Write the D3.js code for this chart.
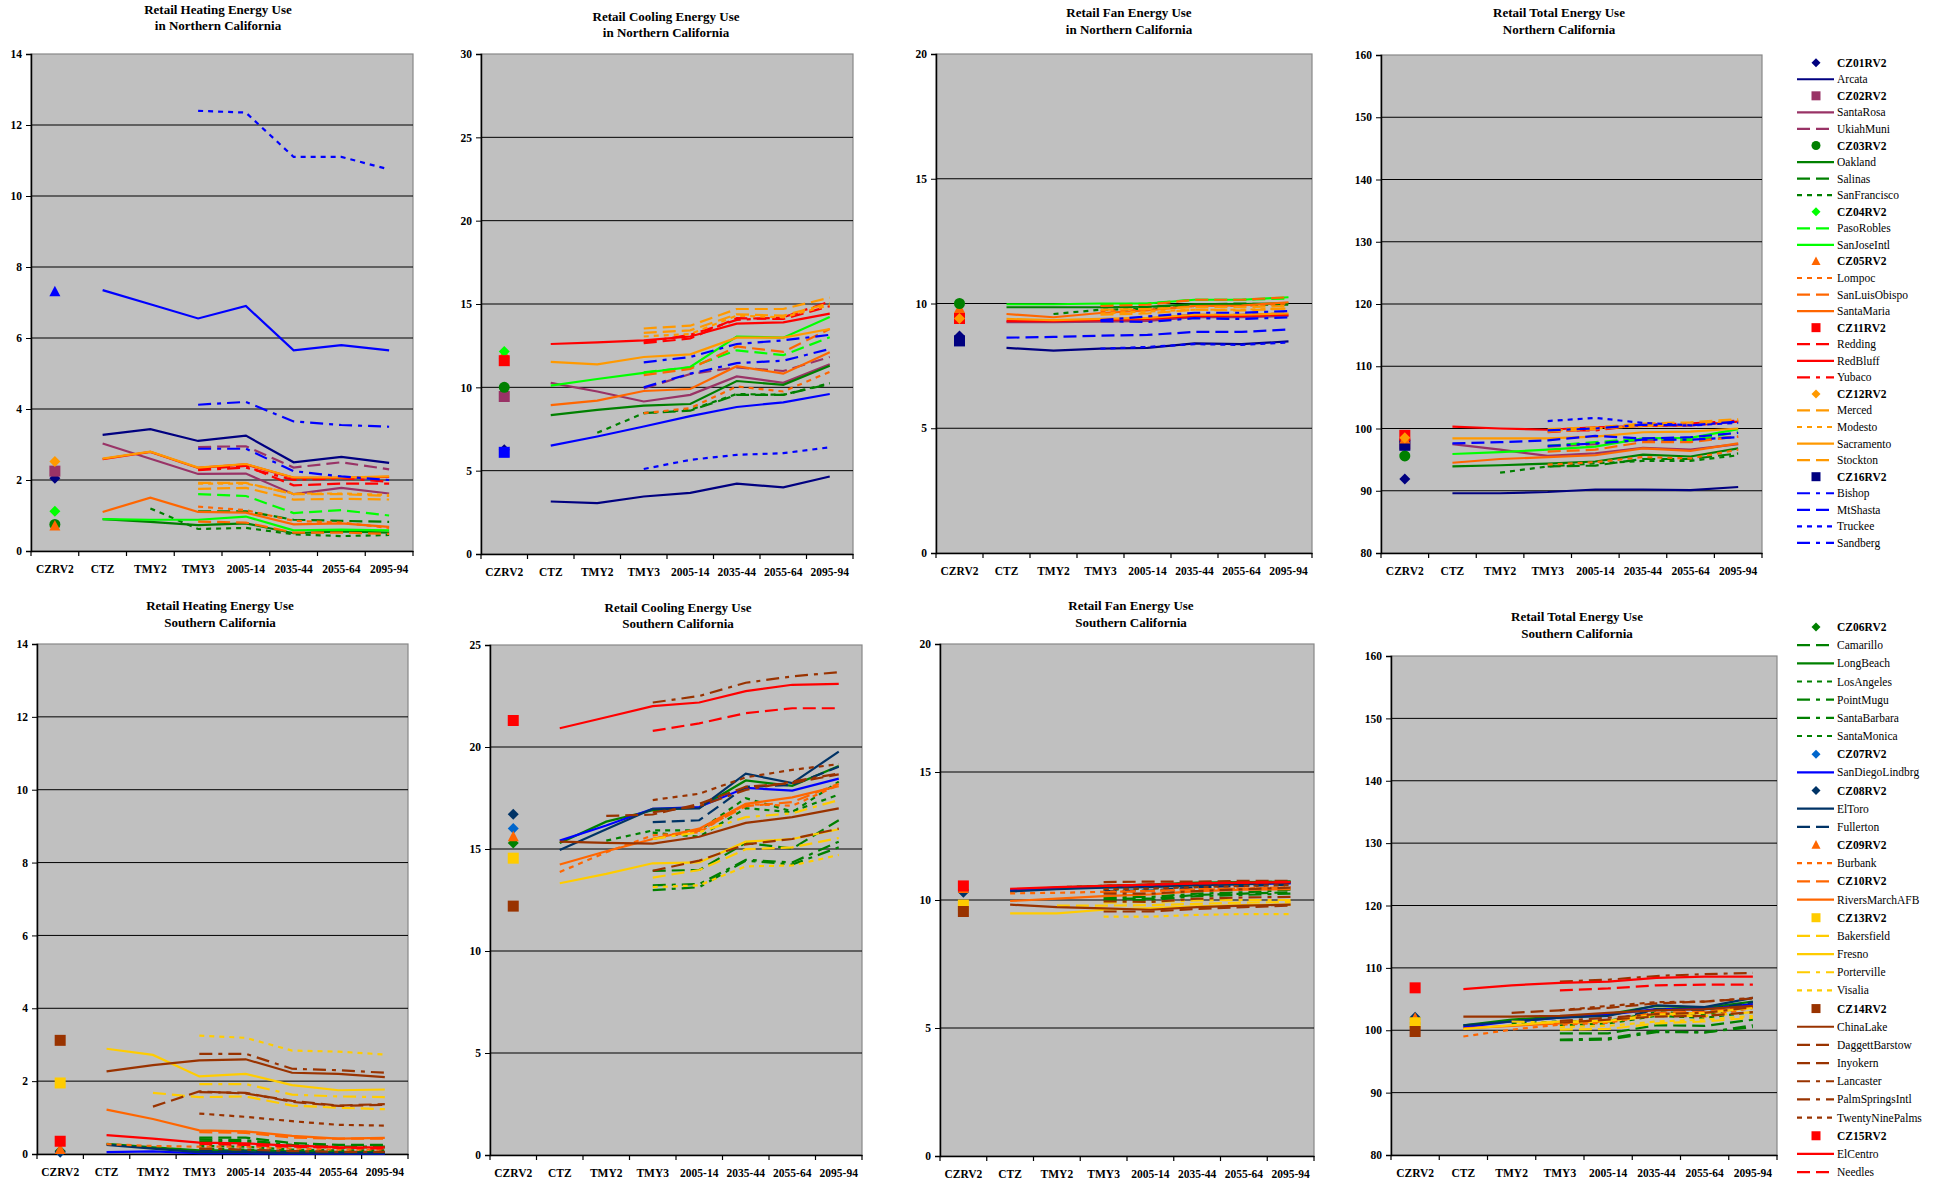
<!DOCTYPE html>
<html><head><meta charset="utf-8">
<script src="https://cdn.jsdelivr.net/npm/d3@7"></script>
<style>
body{margin:0;background:#fff;}
svg{display:block;font-family:"Liberation Serif","Times New Roman",serif;}
</style></head><body>
<svg id="c" width="1946" height="1183"></svg>
<script>
// ---------------- DATA ----------------
const categories = ["CZRV2","CTZ","TMY2","TMY3","2005-14","2035-44","2055-64","2095-94"];

const ticksHeat = [0,2,4,6,8,10,12,14];
const ticksCoolNorth = [0,5,10,15,20,25,30];
const ticksCoolSouth = [0,5,10,15,20,25];
const ticksFan = [0,5,10,15,20];
const ticksTotal = [80,90,100,110,120,130,140,150,160];

// rows: [name, CTZ, TMY2, TMY3, 2005-14, 2035-44, 2055-64, 2095-94]
const heatNorthLines = [
 ["Arcata",3.27,3.43,3.10,3.25,2.50,2.65,2.48],
 ["SantaRosa",3.03,2.60,2.17,2.18,1.60,1.78,1.62],
 ["UkiahMuni",null,null,2.93,2.95,2.35,2.50,2.30],
 ["Oakland",0.90,0.82,0.73,0.78,0.50,0.55,0.52],
 ["Salinas",null,null,1.12,1.12,0.88,0.85,0.82],
 ["SanFrancisco",null,1.20,0.62,0.65,0.47,0.42,0.45],
 ["PasoRobles",null,null,1.60,1.55,1.07,1.15,1.00],
 ["SanJoseIntl",0.90,0.88,0.88,0.97,0.58,0.60,0.58],
 ["Lompoc",null,null,1.25,1.15,0.85,0.80,0.65],
 ["SanLuisObispo",null,null,0.83,0.80,0.52,0.52,0.48],
 ["SantaMaria",1.10,1.50,1.10,1.08,0.75,0.78,0.68],
 ["Redding",null,null,2.30,2.40,1.85,1.90,1.90],
 ["RedBluff",2.59,2.79,2.34,2.44,2.06,2.06,2.09],
 ["Yubaco",null,null,2.28,2.35,2.00,2.05,1.95],
 ["Merced",null,null,1.92,1.92,1.60,1.60,1.55],
 ["Modesto",null,null,1.90,1.90,1.62,1.62,1.58],
 ["Sacramento",2.60,2.80,2.35,2.45,2.07,2.07,2.10],
 ["Stockton",null,null,1.75,1.78,1.45,1.47,1.45],
 ["Bishop",null,null,4.12,4.20,3.65,3.55,3.50],
 ["MtShasta",7.35,6.95,6.55,6.90,5.65,5.80,5.65],
 ["Truckee",null,null,12.40,12.35,11.10,11.10,10.75],
 ["Sandberg",null,null,2.88,2.88,2.25,2.10,2.00]
];
const heatNorthZones = [["CZ01RV2",2.05],["CZ02RV2",2.25],["CZ03RV2",0.75],["CZ04RV2",1.12],["CZ05RV2",0.70],["CZ12RV2",2.52],["CZ16RV2",7.30]];

const coolNorthLines = [
 ["Arcata",3.15,3.05,3.45,3.67,4.22,4.00,4.65],
 ["SantaRosa",10.27,9.75,9.15,9.55,10.65,10.27,11.38],
 ["UkiahMuni",null,null,9.93,10.80,11.20,10.98,11.82],
 ["Oakland",8.33,8.65,8.90,9.00,10.38,10.15,11.30],
 ["Salinas",null,null,8.45,8.60,9.55,9.55,10.20],
 ["SanFrancisco",null,7.27,8.45,8.65,9.60,9.55,10.25],
 ["PasoRobles",null,null,10.90,11.20,12.22,11.93,13.00],
 ["SanJoseIntl",10.10,10.50,10.87,11.22,13.05,12.98,14.22],
 ["Lompoc",null,null,8.45,8.75,10.05,9.75,10.93],
 ["SanLuisObispo",null,null,10.73,11.10,12.45,12.13,13.50],
 ["SantaMaria",8.93,9.20,9.78,9.90,11.27,10.82,12.10],
 ["Redding",null,null,12.65,12.93,14.15,14.10,14.87],
 ["RedBluff",12.60,12.70,12.82,13.05,13.82,13.90,14.42],
 ["Yubaco",null,null,12.70,13.15,14.05,14.20,15.15],
 ["Merced",null,null,13.53,13.70,14.70,14.70,15.38],
 ["Modesto",null,null,13.05,13.20,14.30,14.20,14.93],
 ["Sacramento",11.53,11.38,11.82,11.98,12.98,12.98,13.50],
 ["Stockton",null,null,13.27,13.42,14.38,14.30,15.05],
 ["Bishop",null,null,10.00,10.82,11.45,11.60,12.30],
 ["MtShasta",6.50,7.05,7.65,8.27,8.82,9.10,9.60],
 ["Truckee",null,null,5.10,5.65,5.95,6.05,6.40],
 ["Sandberg",null,null,11.50,11.82,12.60,12.82,13.15]
];
const coolNorthZones = [["CZ01RV2",6.25],["CZ02RV2",9.45],["CZ03RV2",10.0],["CZ05RV2",12.0],["CZ04RV2",12.15],["CZ11RV2",11.6],["CZ16RV2",6.1]];

const fanNorthLines = [
 ["Arcata",8.22,8.11,8.19,8.22,8.40,8.37,8.48],
 ["SantaRosa",9.25,9.25,9.27,9.30,9.45,9.45,9.50],
 ["UkiahMuni",null,null,9.35,9.40,9.55,9.55,9.60],
 ["Oakland",9.85,9.85,9.85,9.87,9.98,9.98,10.00],
 ["Salinas",null,null,9.85,9.85,9.95,10.00,9.95],
 ["SanFrancisco",null,9.58,9.75,9.78,9.90,9.95,9.95],
 ["PasoRobles",null,null,9.95,10.00,10.15,10.15,10.20],
 ["SanJoseIntl",9.97,9.97,10.00,10.00,10.15,10.15,10.25],
 ["Lompoc",null,null,9.70,9.75,9.90,9.90,10.00],
 ["SanLuisObispo",null,null,9.90,9.95,10.15,10.15,10.25],
 ["SantaMaria",9.58,9.45,9.62,9.72,9.90,9.92,10.05],
 ["Redding",null,null,9.35,9.40,9.50,9.50,9.55],
 ["RedBluff",9.29,9.29,9.33,9.38,9.51,9.52,9.55],
 ["Yubaco",null,null,9.33,9.42,9.52,9.52,9.57],
 ["Merced",null,null,9.75,9.78,9.85,9.85,9.90],
 ["Modesto",null,null,9.60,9.68,9.75,9.75,9.80],
 ["Sacramento",9.38,9.33,9.38,9.42,9.55,9.55,9.60],
 ["Stockton",null,null,9.55,9.60,9.75,9.72,9.80],
 ["Bishop",null,null,9.29,9.26,9.41,9.38,9.44],
 ["MtShasta",8.63,8.66,8.71,8.74,8.86,8.86,8.96],
 ["Truckee",null,null,8.19,8.26,8.37,8.34,8.44],
 ["Sandberg",null,null,9.33,9.48,9.63,9.63,9.70]
];
const fanNorthZones = [["CZ16RV2",8.5],["CZ01RV2",8.7],["CZ02RV2",9.4],["CZ11RV2",9.4],["CZ12RV2",9.4],["CZ05RV2",9.8],["CZ04RV2",10.0],["CZ03RV2",10.0]];

const totalNorthLines = [
 ["Arcata",89.6,89.6,89.8,90.2,90.2,90.1,90.6],
 ["SantaRosa",97.5,96.6,95.6,96.0,96.9,96.6,97.5],
 ["UkiahMuni",null,null,97.1,97.5,98.2,98.1,98.7],
 ["Oakland",93.9,94.1,94.35,94.7,95.8,95.5,96.8],
 ["Salinas",null,null,93.9,94.05,95.1,95.1,96.0],
 ["SanFrancisco",null,92.9,93.9,94.4,94.8,94.8,95.7],
 ["PasoRobles",null,null,97.2,97.8,98.4,98.1,99.4],
 ["SanJoseIntl",95.9,96.2,96.6,97.1,98.4,98.5,99.9],
 ["Lompoc",null,null,94.2,94.6,95.4,95.2,96.6],
 ["SanLuisObispo",null,null,96.3,96.6,97.8,97.8,98.7],
 ["SantaMaria",94.5,95.1,95.4,95.7,96.8,96.4,97.6],
 ["Redding",null,null,99.4,99.9,100.5,100.6,101.2],
 ["RedBluff",100.3,100.0,99.8,100.2,100.4,100.5,101.1],
 ["Yubaco",null,null,99.7,99.7,100.6,100.8,101.25],
 ["Merced",null,null,99.9,100.2,100.8,101.0,101.5],
 ["Modesto",null,null,99.6,100.0,100.4,100.5,101.1],
 ["Sacramento",98.4,98.4,98.4,98.7,99.4,99.5,100.0],
 ["Stockton",null,null,99.5,99.9,100.5,100.6,101.4],
 ["Bishop",null,null,97.2,97.6,98.2,98.2,98.6],
 ["MtShasta",97.6,97.8,98.1,98.8,98.4,98.6,99.3],
 ["Truckee",null,null,101.2,101.7,100.9,100.5,100.9],
 ["Sandberg",null,null,99.7,100.0,100.6,100.5,101.1]
];
const totalNorthZones = [["CZ01RV2",91.9],["CZ02RV2",97.5],["CZ04RV2",95.8],["CZ03RV2",95.6],["CZ16RV2",97.3],["CZ11RV2",98.9],["CZ05RV2",98.3],["CZ12RV2",98.5]];

const heatSouthLines = [
 ["Camarillo",null,null,0.45,0.45,0.30,0.25,0.25],
 ["LongBeach",0.28,0.18,0.10,0.10,0.07,0.05,0.05],
 ["LosAngeles",null,null,0.15,0.12,0.08,0.06,0.06],
 ["PointMugu",null,null,0.40,0.38,0.25,0.20,0.20],
 ["SantaBarbara",null,null,0.35,0.33,0.22,0.18,0.18],
 ["SantaMonica",null,null,0.22,0.20,0.12,0.10,0.10],
 ["SanDiegoLindbrg",0.05,0.07,0.02,0.02,0.01,0.01,0.01],
 ["ElToro",0.25,0.15,0.05,0.05,0.03,0.02,0.02],
 ["Fullerton",null,null,0.08,0.07,0.04,0.03,0.03],
 ["Burbank",0.27,0.22,0.20,0.20,0.15,0.12,0.12],
 ["CZ10RV2",null,null,0.60,0.58,0.45,0.42,0.42],
 ["RiversMarchAFB",1.22,0.96,0.65,0.62,0.50,0.42,0.44],
 ["Bakersfield",null,1.68,1.56,1.58,1.33,1.27,1.23],
 ["Fresno",2.89,2.72,2.13,2.20,1.89,1.75,1.77],
 ["Porterville",null,null,1.92,1.92,1.63,1.58,1.56],
 ["Visalia",null,null,3.25,3.19,2.84,2.81,2.73],
 ["ChinaLake",2.27,2.44,2.57,2.60,2.23,2.20,2.11],
 ["DaggettBarstow",null,null,1.70,1.68,1.43,1.32,1.35],
 ["Inyokern",null,1.30,1.72,1.66,1.46,1.33,1.37],
 ["Lancaster",null,null,2.75,2.75,2.34,2.30,2.23],
 ["PalmSpringsIntl",null,null,0.15,0.12,0.08,0.06,0.06],
 ["TwentyNinePalms",null,null,1.11,1.02,0.90,0.80,0.78],
 ["ElCentro",0.52,0.42,0.31,0.29,0.23,0.19,0.18],
 ["Needles",null,null,0.28,0.25,0.20,0.17,0.15]
];
const heatSouthZones = [["CZ06RV2",0.08],["CZ07RV2",0.05],["CZ08RV2",0.06],["CZ09RV2",0.12],["CZ13RV2",1.95],["CZ14RV2",3.12],["CZ15RV2",0.35]];

const coolSouthLines = [
 ["Camarillo",null,null,13.93,13.97,15.30,15.02,16.41],
 ["LongBeach",15.30,16.34,16.90,17.03,18.36,18.10,19.07],
 ["LosAngeles",null,15.41,15.91,15.91,17.49,16.84,17.67],
 ["PointMugu",null,null,13.22,13.28,14.47,14.34,15.36],
 ["SantaBarbara",null,null,12.98,13.13,14.43,14.24,15.08],
 ["SantaMonica",null,null,15.80,15.60,17.00,16.80,18.30],
 ["SanDiegoLindbrg",15.41,16.15,16.97,17.06,18.00,17.86,18.45],
 ["ElToro",14.95,15.97,16.97,16.99,18.69,18.23,19.77],
 ["Fullerton",null,null,16.32,16.41,18.05,18.14,19.03],
 ["Burbank",13.87,14.84,15.67,15.82,17.20,17.12,18.14],
 ["CZ10RV2",null,null,15.50,15.90,17.10,17.30,18.20],
 ["RiversMarchAFB",14.24,14.89,15.49,16.00,17.21,17.53,18.08],
 ["Bakersfield",null,null,13.60,13.97,14.99,15.08,15.54],
 ["Fresno",13.32,13.78,14.30,14.34,15.36,15.49,15.97],
 ["Porterville",null,null,15.49,15.82,16.56,16.75,17.40],
 ["Visalia",null,null,13.13,13.22,14.15,14.19,14.71],
 ["ChinaLake",15.36,15.30,15.26,15.60,16.28,16.56,16.99],
 ["DaggettBarstow",null,16.62,16.69,17.21,18.05,18.23,18.66],
 ["Inyokern",null,null,13.93,14.43,15.23,15.49,16.00],
 ["Lancaster",null,null,16.80,17.10,17.90,18.30,18.70],
 ["PalmSpringsIntl",null,null,22.18,22.50,23.15,23.46,23.67],
 ["TwentyNinePalms",null,null,17.40,17.71,18.51,18.88,19.16],
 ["ElCentro",20.92,21.46,22.00,22.18,22.74,23.05,23.09],
 ["Needles",null,null,20.79,21.16,21.66,21.90,21.90]
];
const coolSouthZones = [["CZ06RV2",15.3],["CZ07RV2",16.0],["CZ08RV2",16.7],["CZ09RV2",15.6],["CZ13RV2",14.55],["CZ14RV2",12.2],["CZ15RV2",21.3]];

const fanSouthLines = [
 ["Camarillo",null,null,10.05,10.05,10.20,10.25,10.30],
 ["LongBeach",10.40,10.48,10.55,10.60,10.68,10.70,10.72],
 ["LosAngeles",null,10.50,10.55,10.60,10.65,10.70,10.72],
 ["PointMugu",null,null,10.10,10.12,10.25,10.30,10.40],
 ["SantaBarbara",null,null,10.00,10.00,10.15,10.20,10.25],
 ["SantaMonica",null,null,10.40,10.45,10.55,10.60,10.65],
 ["SanDiegoLindbrg",10.38,10.45,10.50,10.55,10.60,10.62,10.65],
 ["ElToro",10.33,10.42,10.48,10.50,10.58,10.62,10.68],
 ["Fullerton",null,null,10.35,10.37,10.50,10.55,10.60],
 ["Burbank",10.26,10.28,10.32,10.35,10.40,10.45,10.50],
 ["CZ10RV2",null,null,10.30,10.35,10.42,10.45,10.48],
 ["RiversMarchAFB",9.96,10.05,10.15,10.22,10.35,10.40,10.42],
 ["Bakersfield",null,9.78,9.78,9.80,9.85,9.90,9.92],
 ["Fresno",9.48,9.48,9.62,9.68,9.75,9.80,9.82],
 ["Porterville",null,null,9.90,9.92,9.98,10.00,10.00],
 ["Visalia",null,null,9.35,9.35,9.42,9.45,9.45],
 ["ChinaLake",9.82,9.72,9.67,9.62,9.72,9.78,9.82],
 ["DaggettBarstow",null,null,10.70,10.72,10.72,10.75,10.75],
 ["Inyokern",null,null,9.55,9.55,9.65,9.72,9.78],
 ["Lancaster",null,null,9.95,9.92,10.05,10.10,10.12],
 ["PalmSpringsIntl",null,null,10.25,10.25,10.35,10.42,10.48],
 ["TwentyNinePalms",null,null,10.42,10.45,10.50,10.55,10.58],
 ["ElCentro",10.44,10.50,10.55,10.60,10.65,10.68,10.70],
 ["Needles",null,null,10.55,10.60,10.65,10.67,10.70]
];
const fanSouthZones = [["CZ06RV2",10.4],["CZ07RV2",10.35],["CZ08RV2",10.3],["CZ09RV2",10.45],["CZ13RV2",9.8],["CZ14RV2",9.55],["CZ15RV2",10.55]];

const totalSouthLines = [
 ["Camarillo",null,null,99.5,99.5,100.8,100.7,101.7],
 ["LongBeach",100.8,101.7,102.2,102.6,103.9,103.6,104.6],
 ["LosAngeles",null,101.1,101.4,101.5,102.9,102.6,103.6],
 ["PointMugu",null,null,98.5,98.7,99.9,99.6,100.8],
 ["SantaBarbara",null,null,98.4,98.5,99.7,99.7,100.5],
 ["SantaMonica",null,null,100.8,101.1,102.3,102.0,102.9],
 ["SanDiegoLindbrg",100.5,101.4,102.0,102.5,103.4,103.4,104.2],
 ["ElToro",100.8,101.4,102.0,102.3,104.0,103.7,105.2],
 ["Fullerton",null,null,101.3,101.4,103.4,103.2,104.5],
 ["Burbank",99.0,100.1,100.9,101.2,102.6,102.2,103.6],
 ["CZ10RV2",null,null,101.3,101.6,102.8,103.0,103.8],
 ["RiversMarchAFB",100.3,100.7,101.1,101.4,102.6,102.8,103.7],
 ["Bakersfield",null,null,100.1,100.2,101.1,101.4,102.0],
 ["Fresno",100.2,100.8,101.4,101.5,102.5,102.8,103.6],
 ["Porterville",null,101.4,101.2,101.4,102.3,102.3,102.9],
 ["Visalia",null,null,100.5,100.7,101.4,101.7,102.3],
 ["ChinaLake",102.2,102.2,102.3,102.8,103.2,103.4,103.9],
 ["DaggettBarstow",null,102.8,103.2,103.6,104.3,104.6,105.1],
 ["Inyokern",null,null,101.2,101.7,102.2,102.3,102.9],
 ["Lancaster",null,null,101.5,102.0,102.6,102.8,103.7],
 ["PalmSpringsIntl",null,null,107.8,108.1,108.7,109.0,109.2],
 ["TwentyNinePalms",null,null,103.2,103.9,104.5,104.6,105.2],
 ["ElCentro",106.6,107.2,107.6,107.8,108.4,108.6,108.6],
 ["Needles",null,null,106.4,106.7,107.2,107.3,107.3]
];
const totalSouthZones = [["CZ06RV2",101.0],["CZ07RV2",101.8],["CZ08RV2",102.1],["CZ09RV2",101.9],["CZ13RV2",101.2],["CZ14RV2",99.8],["CZ15RV2",106.8]];

const northLegend = ["CZ01RV2","Arcata","CZ02RV2","SantaRosa","UkiahMuni","CZ03RV2","Oakland","Salinas","SanFrancisco","CZ04RV2","PasoRobles","SanJoseIntl","CZ05RV2","Lompoc","SanLuisObispo","SantaMaria","CZ11RV2","Redding","RedBluff","Yubaco","CZ12RV2","Merced","Modesto","Sacramento","Stockton","CZ16RV2","Bishop","MtShasta","Truckee","Sandberg"];
const southLegend = ["CZ06RV2","Camarillo","LongBeach","LosAngeles","PointMugu","SantaBarbara","SantaMonica","CZ07RV2","SanDiegoLindbrg","CZ08RV2","ElToro","Fullerton","CZ09RV2","Burbank","CZ10RV2","RiversMarchAFB","CZ13RV2","Bakersfield","Fresno","Porterville","Visalia","CZ14RV2","ChinaLake","DaggettBarstow","Inyokern","Lancaster","PalmSpringsIntl","TwentyNinePalms","CZ15RV2","ElCentro","Needles"];

// ---------------- STYLES ----------------
const dashes = {solid:null, longdash:"13,6", dot:"5,5", dashdot:"13,6,4,6"};
const lineStyle = {
 Arcata:["#000080","solid"], SantaRosa:["#993366","solid"], UkiahMuni:["#993366","longdash"],
 Oakland:["#008000","solid"], Salinas:["#008000","longdash"], SanFrancisco:["#008000","dot"],
 PasoRobles:["#00FF00","longdash"], SanJoseIntl:["#00FF00","solid"],
 Lompoc:["#FF6600","dot"], SanLuisObispo:["#FF6600","longdash"], SantaMaria:["#FF6600","solid"],
 Redding:["#FF0000","longdash"], RedBluff:["#FF0000","solid"], Yubaco:["#FF0000","dashdot"],
 Merced:["#FF9900","longdash"], Modesto:["#FF9900","dot"], Sacramento:["#FF9900","solid"], Stockton:["#FF9900","longdash"],
 Bishop:["#0000FF","dashdot"], MtShasta:["#0000FF","longdash"], Truckee:["#0000FF","dot"], Sandberg:["#0000FF","dashdot"],
 Camarillo:["#008000","longdash"], LongBeach:["#008000","solid"], LosAngeles:["#008000","dot"], PointMugu:["#008000","dashdot"],
 SantaBarbara:["#008000","dashdot"], SantaMonica:["#008000","dot"], SanDiegoLindbrg:["#0000FF","solid"],
 ElToro:["#003366","solid"], Fullerton:["#003366","longdash"], Burbank:["#FF6600","dot"], CZ10RV2:["#FF6600","longdash"],
 RiversMarchAFB:["#FF6600","solid"], Bakersfield:["#FFCC00","longdash"], Fresno:["#FFCC00","solid"], Porterville:["#FFCC00","dashdot"],
 Visalia:["#FFCC00","dot"], ChinaLake:["#993300","solid"], DaggettBarstow:["#993300","longdash"], Inyokern:["#993300","longdash"],
 Lancaster:["#993300","dashdot"], PalmSpringsIntl:["#993300","dashdot"], TwentyNinePalms:["#993300","dot"],
 ElCentro:["#FF0000","solid"], Needles:["#FF0000","longdash"]
};
const zoneStyle = {
 CZ01RV2:["#000080","diamond"], CZ02RV2:["#993366","square"], CZ03RV2:["#008000","circle"], CZ04RV2:["#00FF00","diamond"],
 CZ05RV2:["#FF6600","triangle"], CZ11RV2:["#FF0000","square"], CZ12RV2:["#FF9900","diamond"], CZ16RV2:["#000080","square"],
 CZ06RV2:["#008000","diamond"], CZ07RV2:["#0066CC","diamond"], CZ08RV2:["#003366","diamond"], CZ09RV2:["#FF6600","triangle"],
 CZ13RV2:["#FFCC00","square"], CZ14RV2:["#993300","square"], CZ15RV2:["#FF0000","square"]
};
const panelOverrides = {
 heatNorth:{lines:{MtShasta:"solid"}, zones:{CZ16RV2:["#0000FF","triangle"]}},
 coolNorth:{lines:{MtShasta:"solid"}, zones:{CZ16RV2:["#0000FF","square"]}}
};

// ---------------- LAYOUT ----------------
const panels = [
 {key:"heatNorth", lines:heatNorthLines, zones:heatNorthZones, ticks:ticksHeat, rect:[31,54,413,551], title:["Retail Heating Energy Use","in Northern California"], tx:218, ty:[14,30]},
 {key:"coolNorth", lines:coolNorthLines, zones:coolNorthZones, ticks:ticksCoolNorth, rect:[481,54,853,554], title:["Retail Cooling Energy Use","in Northern California"], tx:666, ty:[21,37]},
 {key:"fanNorth", lines:fanNorthLines, zones:fanNorthZones, ticks:ticksFan, rect:[936,54,1312,553], title:["Retail Fan Energy Use","in Northern California"], tx:1129, ty:[17,34]},
 {key:"totalNorth", lines:totalNorthLines, zones:totalNorthZones, ticks:ticksTotal, rect:[1381,55,1762,553], title:["Retail Total Energy Use","Northern California"], tx:1559, ty:[17,34]},
 {key:"heatSouth", lines:heatSouthLines, zones:heatSouthZones, ticks:ticksHeat, rect:[37,644,408,1154], title:["Retail Heating Energy Use","Southern California"], tx:220, ty:[610,627]},
 {key:"coolSouth", lines:coolSouthLines, zones:coolSouthZones, ticks:ticksCoolSouth, rect:[490,645,862,1155], title:["Retail Cooling Energy Use","Southern California"], tx:678, ty:[612,628]},
 {key:"fanSouth", lines:fanSouthLines, zones:fanSouthZones, ticks:ticksFan, rect:[940,644,1314,1156], title:["Retail Fan Energy Use","Southern California"], tx:1131, ty:[610,627]},
 {key:"totalSouth", lines:totalSouthLines, zones:totalSouthZones, ticks:ticksTotal, rect:[1391,656,1777,1155], title:["Retail Total Energy Use","Southern California"], tx:1577, ty:[621,638]}
];

const svg = d3.select("#c");

function symbolPath(shape, r){
  if(shape==="diamond") return `M0,${-r}L${r},0L0,${r}L${-r},0Z`;
  if(shape==="square") return `M${-r},${-r}H${r}V${r}H${-r}Z`;
  if(shape==="triangle") return `M0,${-r*1.1}L${r},${r*0.8}L${-r},${r*0.8}Z`;
  return d3.symbol(d3.symbolCircle, Math.PI*r*r)();
}

function drawPanel(p){
  const [x0,y0,x1,y1] = p.rect;
  const ov = panelOverrides[p.key] || {lines:{}, zones:{}};
  const g = svg.append("g");
  g.append("rect").attr("x",x0).attr("y",y0).attr("width",x1-x0).attr("height",y1-y0)
    .attr("fill","#C0C0C0").attr("stroke","#888").attr("stroke-width",1.2);
  const x = d3.scaleBand().domain(categories).range([x0,x1]);
  const cx = c => x(c) + x.bandwidth()/2;
  const y = d3.scaleLinear().domain(d3.extent(p.ticks)).range([y1,y0]);

  g.selectAll("line.grid").data(p.ticks.slice(1,-1)).join("line").attr("class","grid")
    .attr("x1",x0).attr("x2",x1).attr("y1",d=>y(d)).attr("y2",d=>y(d))
    .attr("stroke","#000").attr("stroke-width",1);

  const ya = g.append("g").attr("transform",`translate(${x0},0)`)
    .call(d3.axisLeft(y).tickValues(p.ticks).tickSize(5).tickPadding(4).tickFormat(d3.format("d")));
  ya.select(".domain").attr("stroke","#000").attr("stroke-width",1.5);
  ya.selectAll(".tick line").attr("stroke","#000");
  ya.selectAll("text").attr("font-size",11.5).attr("font-weight","bold").attr("fill","#000")
    .attr("font-family","Liberation Serif, serif");

  const xa = g.append("g").attr("transform",`translate(0,${y1})`)
    .call(d3.axisBottom(x).tickSize(0).tickPadding(14));
  xa.select(".domain").attr("stroke","#000").attr("stroke-width",1.5);
  xa.selectAll("text").attr("font-size",11.5).attr("font-weight","bold").attr("fill","#000")
    .attr("font-family","Liberation Serif, serif");
  const edges = categories.map(c=>x(c)).concat([x1]);
  g.selectAll("line.xt").data(edges).join("line").attr("class","xt")
    .attr("x1",d=>d).attr("x2",d=>d).attr("y1",y1).attr("y2",y1+5).attr("stroke","#000").attr("stroke-width",1.2);

  const line = d3.line().defined(d=>d.v!=null).x(d=>cx(d.c)).y(d=>y(d.v));
  p.lines.forEach(row=>{
    const name=row[0];
    const pts=row.slice(1).map((v,i)=>({c:categories[i+1],v}));
    const st=lineStyle[name];
    const dash = dashes[(ov.lines&&ov.lines[name])||st[1]];
    g.append("path").datum(pts).attr("d",line).attr("fill","none")
      .attr("stroke",st[0]).attr("stroke-width",2.2).attr("stroke-dasharray",dash);
  });
  p.zones.forEach(([name,v])=>{
    const st=(ov.zones&&ov.zones[name])||zoneStyle[name];
    g.append("path").attr("d",symbolPath(st[1],5.5))
      .attr("transform",`translate(${cx(categories[0])},${y(v)})`).attr("fill",st[0]);
  });
  g.selectAll("text.title").data(p.title).join("text").attr("class","title")
    .attr("x",p.tx).attr("y",(d,i)=>p.ty[i]).attr("text-anchor","middle")
    .attr("font-size",13).attr("font-weight","bold").text(d=>d);
}
panels.forEach(drawPanel);

function drawLegend(items, top, step){
  const g = svg.append("g");
  items.forEach((name,i)=>{
    const yy = top + i*step;
    const isZone = name.startsWith("CZ");
    if(zoneStyle[name]){
      const st=zoneStyle[name];
      g.append("path").attr("d",symbolPath(st[1],4.5)).attr("transform",`translate(1816,${yy})`).attr("fill",st[0]);
    } else {
      const st=lineStyle[name];
      g.append("line").attr("x1",1797).attr("x2",1834).attr("y1",yy).attr("y2",yy)
        .attr("stroke",st[0]).attr("stroke-width",2.2).attr("stroke-dasharray",dashes[st[1]]);
    }
    g.append("text").attr("x",1837).attr("y",yy+4).attr("font-size",11.5)
      .attr("font-weight",isZone?"bold":"normal").text(name);
  });
}
drawLegend(northLegend, 62.7, 16.56);
drawLegend(southLegend, 627, 18.17);
</script></body></html>
